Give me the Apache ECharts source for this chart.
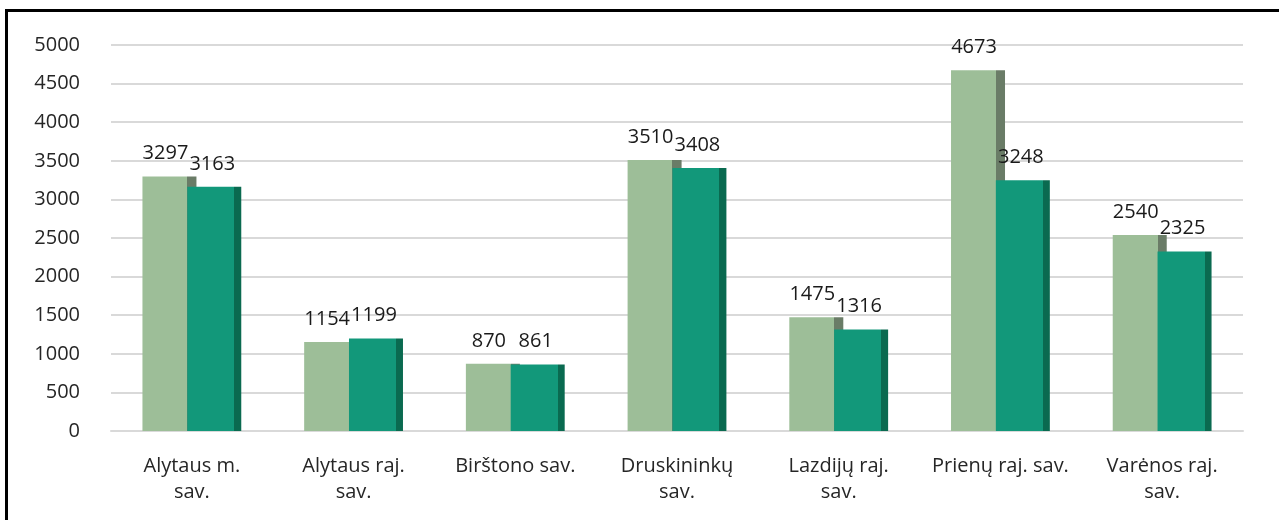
<!DOCTYPE html>
<html>
<head>
<meta charset="utf-8">
<script src="https://cdn.jsdelivr.net/npm/echarts@6/dist/echarts.min.js"></script>
<style>
  html, body { margin: 0; padding: 0; background: #fff; }
  #main { width: 1279px; height: 520px; }
</style>
</head>
<body>
<div id="main"></div>
<script>
// categories and values
const categories = ['Alytaus m.\nsav.', 'Alytaus raj.\nsav.', 'Birštono sav.', 'Druskininkų\nsav.', 'Lazdijų raj.\nsav.', 'Prienų raj. sav.', 'Varėnos raj.\nsav.']
const seriesA = [3297, 1154, 870, 3510, 1475, 4673, 2540]
const seriesB = [3163, 1199, 861, 3408, 1316, 3248, 2325]

const FONT = '"Open Sans", sans-serif'

function sideGradient(face, side, cut) {
  return new echarts.graphic.LinearGradient(0, 0, 1, 0, [
    { offset: 0, color: face },
    { offset: cut, color: face },
    { offset: cut, color: side },
    { offset: 1, color: side }
  ])
}

const chart = echarts.init(document.getElementById('main'))
chart.setOption({
  animation: false,
  textStyle: { fontFamily: FONT },
  grid: { left: 111, right: 36, top: 45, bottom: 89 },
  graphic: [
    {
      type: 'polyline',
      shape: { points: [[6.5, 520], [6.5, 10.5], [1279, 10.5]] },
      style: { stroke: '#000', lineWidth: 3, fill: null }
    }
  ],
  xAxis: {
    type: 'category',
    data: categories,
    axisTick: { show: false },
    axisLine: { lineStyle: { color: '#d9d9d9', width: 2 } },
    axisLabel: {
      color: '#262626',
      fontSize: 20,
      fontFamily: FONT,
      lineHeight: 26,
      margin: 22,
      interval: 0
    }
  },
  yAxis: {
    type: 'value',
    min: 0,
    max: 5000,
    interval: 500,
    axisLine: { show: false },
    axisTick: { show: false },
    splitLine: { lineStyle: { color: '#d9d9d9', width: 2 } },
    axisLabel: {
      color: '#262626',
      fontSize: 20,
      fontFamily: FONT,
      margin: 31,
      formatter: v => String(v)
    }
  },
  series: [
    {
      type: 'bar',
      data: seriesA,
      barWidth: 54,
      barGap: '-17%',
      itemStyle: { color: sideGradient('#9dbe98', '#6a7c67', 0.83) },
      label: {
        show: true,
        position: 'top',
        distance: 13,
        offset: [-4, 0],
        color: '#1a1a1a',
        fontSize: 20,
        fontFamily: FONT
      }
    },
    {
      type: 'bar',
      data: seriesB,
      barWidth: 54,
      itemStyle: { color: sideGradient('#12987a', '#0a6a50', 0.87) },
      label: {
        show: true,
        position: 'top',
        distance: 13,
        offset: [-2, 0],
        color: '#1a1a1a',
        fontSize: 20,
        fontFamily: FONT
      }
    }
  ]
})
</script>
</body>
</html>
